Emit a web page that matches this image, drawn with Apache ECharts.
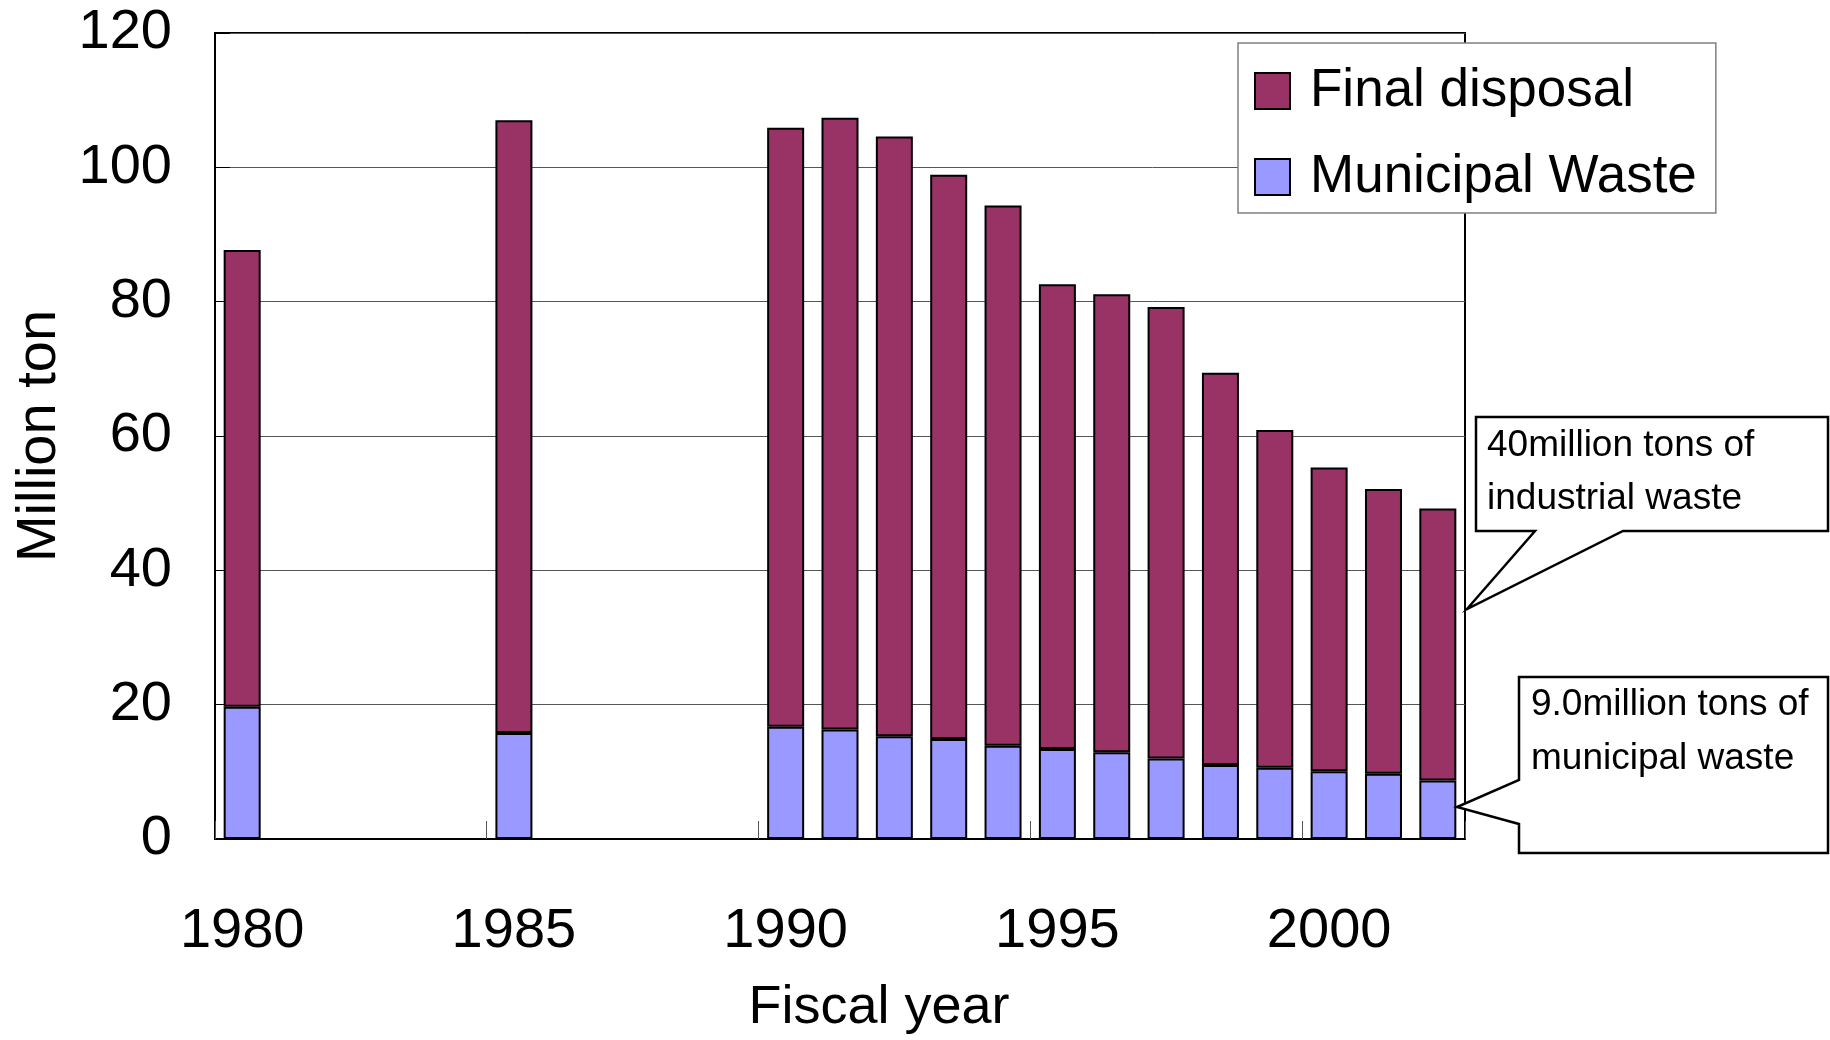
<!DOCTYPE html>
<html>
<head>
<meta charset="utf-8">
<script src="https://cdn.jsdelivr.net/npm/echarts@6/dist/echarts.min.js"></script>
<style>
html,body{margin:0;padding:0;background:#fff;}
#chart{width:1830px;height:1040px;}
</style>
</head>
<body>
<div id="chart"></div>
<script>
// ---- data ----
var years = ['1980','1981','1982','1983','1984','1985','1986','1987','1988','1989','1990','1991','1992','1993','1994','1995','1996','1997','1998','1999','2000','2001','2002'];
// Municipal waste (bottom segment), million ton
var municipal = [19.7,null,null,null,null,15.8,null,null,null,null,16.7,16.3,15.3,14.9,13.9,13.4,12.9,12.0,11.0,10.6,10.1,9.7,8.7];
// Final disposal of industrial waste (upper segment), million ton
var finalDisposal = [68.0,null,null,null,null,91.2,null,null,null,null,89.2,91.1,89.3,84.0,80.4,69.2,68.2,67.2,58.4,50.3,45.2,42.4,40.5];
var yTicks = [0,20,40,60,80,100,120];
var seriesNames = ['Final disposal','Municipal Waste'];
var callout1 = ['40million tons of','industrial waste'];
var callout2 = ['9.0million tons of','municipal waste'];

var FONT = "'Liberation Sans', Arial, sans-serif";
var chart = echarts.init(document.getElementById('chart'));

var option = {
  backgroundColor: '#fff',
  animation: false,
  grid: {left: 215, top: 33, width: 1250, height: 808, show: true, borderColor: '#000', borderWidth: 2, backgroundColor: 'transparent'},
  legend: {
    orient: 'vertical', left: 1238, top: 43,
    padding: [18, 19, 6, 16],
    icon: 'rect',
    itemWidth: 35, itemHeight: 36, itemGap: 26,
    borderColor: '#808080', borderWidth: 1.5, backgroundColor: '#fff',
    data: seriesNames,
    textStyle: {fontFamily: FONT, fontSize: 53, color: '#000', lineHeight: 60, padding: [0, 0, 0, 15]}
  },
  xAxis: {
    type: 'category', data: years, boundaryGap: true,
    name: 'Fiscal year', nameLocation: 'middle', nameGap: 142,
    nameTextStyle: {fontFamily: FONT, fontSize: 54, color: '#000', padding: [0, 0, 0, 78]},
    axisLine: {lineStyle: {color: '#000', width: 2}},
    axisTick: {show: true, inside: true, interval: 4, length: 18, lineStyle: {color: '#555', width: 1}},
    axisLabel: {interval: 4, margin: 65, fontFamily: FONT, fontSize: 56, color: '#000'},
    splitLine: {show: false}
  },
  yAxis: {
    type: 'value', min: yTicks[0], max: yTicks[yTicks.length - 1], interval: 20,
    name: 'Million ton', nameLocation: 'middle', nameGap: 141, nameRotate: 90,
    nameTextStyle: {fontFamily: FONT, fontSize: 56, color: '#000'},
    axisLine: {show: true, lineStyle: {color: '#000', width: 2}},
    axisTick: {show: true, inside: true, length: 15, lineStyle: {color: '#000', width: 1}},
    axisLabel: {margin: 43, fontFamily: FONT, fontSize: 56, color: '#000'},
    splitLine: {show: true, lineStyle: {color: '#555', width: 1}}
  },
  series: [
    {name: seriesNames[1], type: 'bar', stack: 'total', data: municipal, barWidth: 37,
     itemStyle: {color: '#9999FF', borderColor: '#000', borderWidth: 2}},
    {name: seriesNames[0], type: 'bar', stack: 'total', data: finalDisposal, barWidth: 37,
     itemStyle: {color: '#993366', borderColor: '#000', borderWidth: 2}}
  ],
  graphic: [
    {type: 'polygon', z: 100,
     shape: {points: [[1476,417],[1828,417],[1828,531],[1623,531],[1467,609],[1535,531],[1476,531]]},
     style: {fill: '#fff', stroke: '#000', lineWidth: 2.5}},
    {type: 'text', z: 101, x: 1487, y: 446, style: {text: callout1[0], font: '37px ' + FONT, fill: '#000', textVerticalAlign: 'middle'}},
    {type: 'text', z: 101, x: 1487, y: 499, style: {text: callout1[1], font: '37px ' + FONT, fill: '#000', textVerticalAlign: 'middle'}},
    {type: 'polygon', z: 100,
     shape: {points: [[1519,677],[1828,677],[1828,853],[1519,853],[1519,824],[1457,807],[1519,780]]},
     style: {fill: '#fff', stroke: '#000', lineWidth: 2.5}},
    {type: 'text', z: 101, x: 1531, y: 705, style: {text: callout2[0], font: '37px ' + FONT, fill: '#000', textVerticalAlign: 'middle'}},
    {type: 'text', z: 101, x: 1531, y: 759, style: {text: callout2[1], font: '37px ' + FONT, fill: '#000', textVerticalAlign: 'middle'}}
  ]
};
chart.setOption(option);
</script>
</body>
</html>
